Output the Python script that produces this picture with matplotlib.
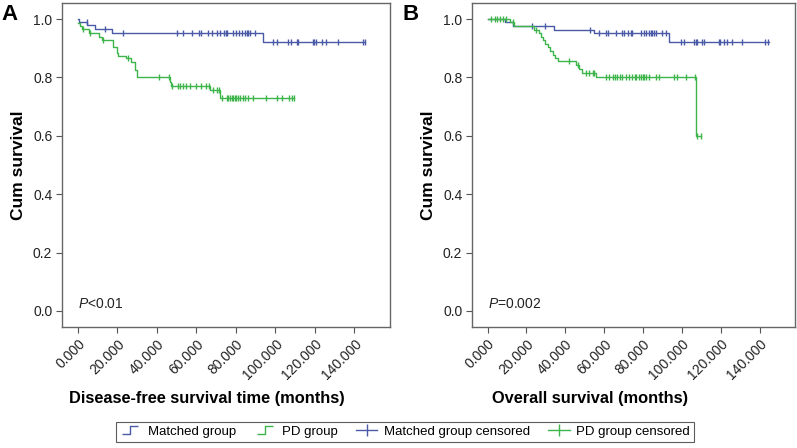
import numpy as np
import matplotlib
matplotlib.use("Agg")
import matplotlib.pyplot as plt
from matplotlib.path import Path
from matplotlib.lines import Line2D

plt.rcParams['font.family'] = ['Liberation Sans', 'DejaVu Sans']
plt.rcParams['mathtext.fontset'] = 'custom'
plt.rcParams['mathtext.it'] = 'Liberation Sans:italic'
plt.rcParams['mathtext.rm'] = 'Liberation Sans'

BLUE = '#4b5aa6'
GREEN = '#3db54a'

# ---- panel A: disease-free survival ----
a_match_t = [0, 0.5, 4.9, 8.6, 17.4, 93.8, 145.3]
a_match_s = [1.0, 0.99, 0.978, 0.966, 0.952, 0.92, 0.92]
a_match_c = [4.7, 13.7, 23.0, 50.0, 53.0, 58.0, 61.4, 62.3, 66.0, 68.0, 70.2, 71.9, 73.9,
             74.9, 75.3, 78.6, 80.3, 81.7, 83.2, 84.6, 85.4, 86.2, 87.1, 89.6, 98.9,
             100.9, 106.5, 107.7, 110.7, 111.6, 118.8, 119.5, 120.8, 123.4, 125.6,
             131.8, 144.5, 145.3]

a_pd_t = [0, 1.0, 2.0, 5.5, 10.8, 12.0, 17.9, 19.6, 20.4, 24.6, 26.8, 28.9, 30.0,
          46.6, 47.4, 66.8, 71.9, 109.4]
a_pd_s = [0.985, 0.975, 0.966, 0.952, 0.94, 0.927, 0.905, 0.882, 0.875, 0.868, 0.853,
          0.827, 0.80, 0.786, 0.771, 0.757, 0.73, 0.73]
a_pd_c = [2.4, 6.0, 12.8, 25.5, 41.0, 46.0, 47.6, 50.5, 51.6, 53.3, 55.0, 56.7, 60.0,
          62.6, 65.0, 66.3, 68.5, 70.2, 71.6, 73.2, 75.3, 76.1, 77.0, 77.8, 78.6, 79.5,
          80.3, 81.2, 82.0, 83.7, 84.6, 86.2, 88.8, 95.5, 100.6, 103.1, 107.0, 108.2, 109.4]

# ---- panel B: overall survival ----
b_match_t = [0, 9.2, 13.0, 34.4, 54.5, 93.3, 144.6]
b_match_s = [1.0, 0.99, 0.976, 0.964, 0.952, 0.92, 0.92]
b_match_c = [22.9, 29.7, 52.6, 57.4, 60.9, 61.7, 66.0, 69.4, 70.3, 72.0, 73.7, 74.5,
             78.8, 80.5, 81.4, 83.1, 83.9, 84.8, 85.6, 86.5, 89.9, 91.6, 99.3, 101.0,
             106.2, 107.0, 107.9, 110.4, 111.3, 119.0, 119.8, 121.5, 123.2, 125.8,
             130.9, 142.9, 144.3]

b_pd_t = [0, 11.3, 13.8, 24.0, 26.7, 27.5, 28.4, 29.6, 31.0, 32.0, 33.5, 34.9, 36.0,
          45.5, 47.2, 48.5, 55.7, 107.0, 109.6]
b_pd_s = [1.0, 0.99, 0.976, 0.964, 0.952, 0.94, 0.927, 0.915, 0.903, 0.89, 0.878,
          0.866, 0.855, 0.843, 0.83, 0.815, 0.80, 0.60, 0.60]
b_pd_c = [1.9, 3.6, 4.8, 6.2, 7.9, 9.6, 13.3, 25.0, 41.7, 46.3, 50.6, 52.3, 54.0, 54.9,
          60.9, 62.6, 64.3, 65.6, 66.8, 68.0, 69.4, 71.1, 72.5, 74.5, 75.9, 76.6, 77.9,
          78.8, 79.7, 80.5, 81.4, 83.1, 86.5, 88.2, 95.9, 97.6, 101.9, 106.7, 107.9, 109.6]

xticks = [0, 20, 40, 60, 80, 100, 120, 140]
yticks = [0.0, 0.2, 0.4, 0.6, 0.8, 1.0]


def level_at(t, s, c):
    t = np.asarray(t)
    s = np.asarray(s)
    idx = np.searchsorted(t, c, side='right') - 1
    return s[np.clip(idx, 0, len(s) - 1)]


def km_panel(ax, groups, ptext):
    for t, s, c, col in groups:
        ax.step(t, s, where='post', color=col, lw=1.0)
        ax.plot(c, level_at(t, s, c), linestyle='none', marker='|', ms=5, mew=1.0, color=col)
    ax.set_xlim(-8, 158)
    ax.set_ylim(-0.055, 1.055)
    ax.set_xticks(xticks)
    ax.set_xticklabels(['%.3f' % v for v in xticks], rotation=45, ha='right',
                       rotation_mode='anchor', fontsize=10, color='#222222')
    ax.set_yticks(yticks)
    ax.set_yticklabels(['%.1f' % v for v in yticks], fontsize=10, color='#222222')
    ax.tick_params(direction='out', length=4, color='#555555', pad=3)
    for sp in ax.spines.values():
        sp.set_color('#666666')
        sp.set_linewidth(1.0)
    ax.set_ylabel('Cum survival', fontsize=12.5, fontweight='bold', labelpad=5)
    ax.text(0, 0.0, ptext, fontsize=10, va='bottom', ha='left', color='#222222')


fig = plt.figure(figsize=(7.97, 4.48), dpi=100)
axA = fig.add_axes([0.0778, 0.2701, 0.4115, 0.7232])
axB = fig.add_axes([0.5922, 0.2701, 0.4050, 0.7232])

km_panel(axA, [(a_match_t, a_match_s, a_match_c, BLUE),
               (a_pd_t, a_pd_s, a_pd_c, GREEN)], r'$P$<0.01')
km_panel(axB, [(b_match_t, b_match_s, b_match_c, BLUE),
               (b_pd_t, b_pd_s, b_pd_c, GREEN)], r'$P$=0.002')

fig.text(0.26, 0.111, 'Disease-free survival time (months)', fontsize=11.8,
         fontweight='bold', ha='center', va='center')
fig.text(0.74, 0.111, 'Overall survival (months)', fontsize=11.8,
         fontweight='bold', ha='center', va='center')
fig.text(0.002, 0.99, 'A', fontsize=16, fontweight='bold', va='top', ha='left')
fig.text(0.505, 0.99, 'B', fontsize=16, fontweight='bold', va='top', ha='left')

step_marker = Path([(-1, -0.5), (0, -0.5), (0, 0.5), (1, 0.5)])
handles = [
    Line2D([], [], color=BLUE, marker=step_marker, mfc='none', ms=11, mew=1.0, linestyle='none'),
    Line2D([], [], color=GREEN, marker=step_marker, mfc='none', ms=11, mew=1.0, linestyle='none'),
    Line2D([], [], color=BLUE, marker='|', ms=9, lw=1.0),
    Line2D([], [], color=GREEN, marker='|', ms=9, lw=1.0),
]
labels = ['Matched group', 'PD group', 'Matched group censored', 'PD group censored']
leg = fig.legend(handles, labels, loc='center', bbox_to_anchor=(0.508, 0.036), ncol=4,
                 fontsize=9.5, frameon=True, fancybox=False, edgecolor='#333333',
                 handlelength=1.6, handletextpad=0.5, columnspacing=1.4,
                 borderpad=0.3, numpoints=1)
leg.get_frame().set_linewidth(0.8)

fig.savefig('out.png', dpi=100)
